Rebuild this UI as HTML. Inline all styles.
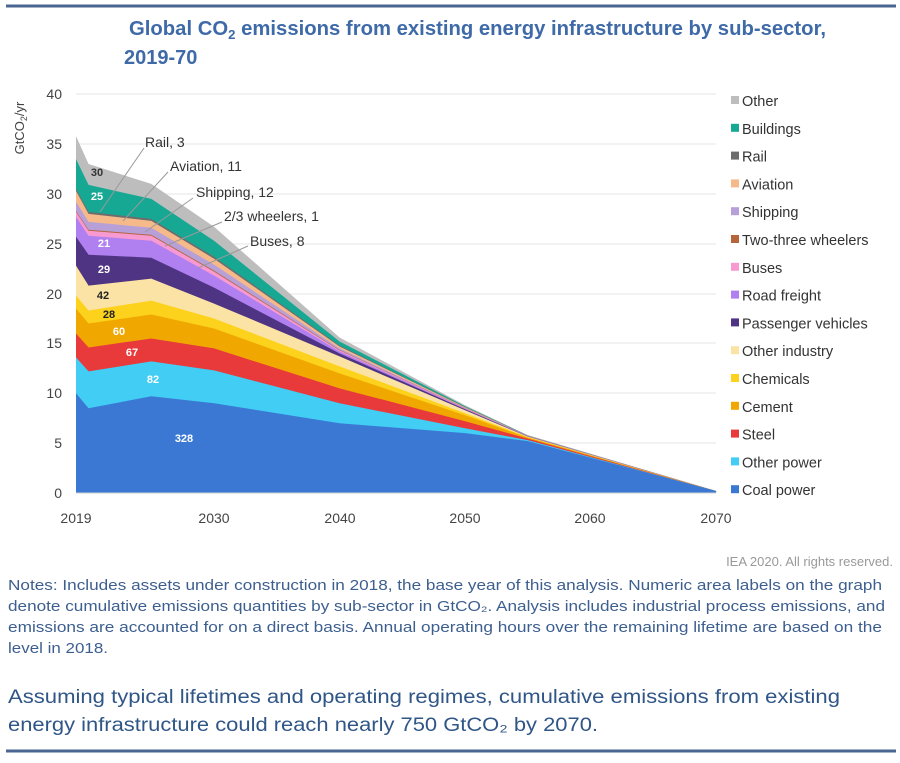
<!DOCTYPE html>
<html><head><meta charset="utf-8"><style>
body{margin:0;background:#fff;width:900px;height:758px;overflow:hidden;font-family:"Liberation Sans",sans-serif;}
</style></head><body>
<svg width="900" height="758" xmlns="http://www.w3.org/2000/svg" font-family="Liberation Sans, sans-serif">
<line x1="6" y1="6" x2="896" y2="6" stroke="#4a6592" stroke-width="3"/>
<line x1="6" y1="751" x2="896" y2="751" stroke="#4a6592" stroke-width="3"/>
<text x="129" y="35" font-size="20" fill="#3f6aa8" font-weight="bold" textLength="697" lengthAdjust="spacingAndGlyphs">Global CO<tspan font-size="13" dy="4">2</tspan><tspan dy="-4"> emissions from existing energy infrastructure by sub-sector,</tspan></text>
<text x="124" y="64" font-size="20" fill="#3f6aa8" font-weight="bold">2019-70</text>
<g stroke="#e6e6e6" stroke-width="1">
<line x1="76" y1="94" x2="716" y2="94"/><line x1="76" y1="144" x2="716" y2="144"/><line x1="76" y1="194" x2="716" y2="194"/><line x1="76" y1="244" x2="716" y2="244"/><line x1="76" y1="294" x2="716" y2="294"/><line x1="76" y1="343" x2="716" y2="343"/><line x1="76" y1="393" x2="716" y2="393"/><line x1="76" y1="443" x2="716" y2="443"/>
</g>
<g id="areas"></g>
<line x1="76" y1="493" x2="716" y2="493" stroke="#cfcfcf"/>
<g font-size="14" fill="#444" text-anchor="end">
<text x="62" y="99">40</text><text x="62" y="149">35</text><text x="62" y="199">30</text><text x="62" y="249">25</text><text x="62" y="299">20</text><text x="62" y="348">15</text><text x="62" y="398">10</text><text x="62" y="448">5</text><text x="62" y="498">0</text>
</g>
<text transform="translate(24,128) rotate(-90)" font-size="13" fill="#444" text-anchor="middle">GtCO<tspan font-size="9" dy="3">2</tspan><tspan dy="-3">/yr</tspan></text>
<g font-size="14" fill="#444" text-anchor="middle">
<text x="76" y="523">2019</text><text x="214" y="523">2030</text><text x="340" y="523">2040</text><text x="465" y="523">2050</text><text x="590" y="523">2060</text><text x="716" y="523">2070</text>
</g>
<g font-size="11" font-weight="bold">
<text x="97" y="176" fill="#333" text-anchor="middle">30</text>
<text x="97" y="200" fill="#fff" text-anchor="middle">25</text>
<text x="104" y="247" fill="#fff" text-anchor="middle">21</text>
<text x="104" y="273" fill="#fff" text-anchor="middle">29</text>
<text x="103" y="299" fill="#222" text-anchor="middle">42</text>
<text x="109" y="318" fill="#222" text-anchor="middle">28</text>
<text x="119" y="335" fill="#fff" text-anchor="middle">60</text>
<text x="132" y="356" fill="#fff" text-anchor="middle">67</text>
<text x="153" y="383" fill="#fff" text-anchor="middle">82</text>
<text x="184" y="442" fill="#fff" text-anchor="middle">328</text>
</g>
<g stroke="#999" stroke-width="1">
<line x1="144" y1="148" x2="100" y2="212"/>
<line x1="168" y1="172" x2="123" y2="221"/>
<line x1="193" y1="198" x2="145" y2="232"/>
<line x1="222" y1="222" x2="165" y2="246"/>
<line x1="248" y1="246" x2="198" y2="268"/>
</g>
<g font-size="14" fill="#333">
<text x="145" y="147">Rail, 3</text>
<text x="170" y="171">Aviation, 11</text>
<text x="196" y="197">Shipping, 12</text>
<text x="224" y="221">2/3 wheelers, 1</text>
<text x="250" y="246">Buses, 8</text>
</g>
<g id="legend" font-size="14.5" fill="#333"></g>
<text x="893" y="566" font-size="13" fill="#999" text-anchor="end">IEA 2020. All rights reserved.</text>
<g font-size="14.5" fill="#3d5f8f">
<text x="8" y="590" textLength="874" lengthAdjust="spacingAndGlyphs">Notes: Includes assets under construction in 2018, the base year of this analysis. Numeric area labels on the graph</text>
<text x="8" y="611" textLength="877" lengthAdjust="spacingAndGlyphs">denote cumulative emissions quantities by sub-sector in GtCO₂. Analysis includes industrial process emissions, and</text>
<text x="8" y="632" textLength="874" lengthAdjust="spacingAndGlyphs">emissions are accounted for on a direct basis. Annual operating hours over the remaining lifetime are based on the</text>
<text x="8" y="653" textLength="100" lengthAdjust="spacingAndGlyphs">level in 2018.</text>
</g>
<g font-size="19" fill="#2f5687">
<text x="8" y="703" textLength="832" lengthAdjust="spacingAndGlyphs">Assuming typical lifetimes and operating regimes, cumulative emissions from existing</text>
<text x="8" y="731" textLength="590" lengthAdjust="spacingAndGlyphs">energy infrastructure could reach nearly 750 GtCO₂ by 2070.</text>
</g>
</svg>
<script>
var years=[2019,2020,2025,2030,2040,2050,2055,2070];
var d=[
[10,13.6,16,18.5,19.8,22.8,25.7,27.7,28.2,28.3,29.2,30.3,30.5,33.5,35.8],
[8.5,12.2,14.6,17,18.3,20.8,23.9,25.8,26.3,26.4,27.2,28.0,28.2,30.9,33],
[9.7,13.2,15.5,17.9,19.3,21.5,23.6,25.3,25.8,25.9,26.6,27.3,27.5,29.5,31],
[9.0,12.3,14.5,16.5,17.5,19.0,20.6,21.8,22.2,22.3,22.9,23.5,23.7,25.3,26.7],
[7.0,9.0,10.5,12,12.7,13.7,14.0,14.2,14.3,14.35,14.5,14.7,14.8,15.2,15.6],
[6,6.5,7.2,7.8,8.0,8.3,8.4,8.45,8.5,8.52,8.55,8.6,8.62,8.7,8.8],
[5.2,5.3,5.45,5.55,5.6,5.65,5.68,5.7,5.71,5.72,5.73,5.75,5.76,5.78,5.8],
[0.2,0.2,0.2,0.2,0.2,0.2,0.2,0.2,0.2,0.2,0.2,0.2,0.2,0.2,0.2]];
var cols=["#3a78d4","#41cdf4","#e8393b","#f0a800","#fcd21c","#fbe3a6","#4e3482","#b07ff0","#f79ad2","#b5653c","#b7a0d8","#f5b98a","#6d6d6d","#17a894","#bdbdbd"];
var names=["Coal power","Other power","Steel","Cement","Chemicals","Other industry","Passenger vehicles","Road freight","Buses","Two-three wheelers","Shipping","Aviation","Rail","Buildings","Other"];
function X(y){return 76+(y-2019)*12.55}function Y(v){return 493-v*9.97}
var g=document.getElementById("areas"),ns="http://www.w3.org/2000/svg";
for(var s=14;s>=0;s--){var p=[];for(var i=0;i<years.length;i++)p.push(X(years[i])+","+Y(d[i][s]));p.push("716,493","76,493");
var e=document.createElementNS(ns,"polygon");e.setAttribute("points",p.join(" "));e.setAttribute("fill",cols[s]);g.appendChild(e);}
var L=document.getElementById("legend");
for(var k=0;k<15;k++){var s=14-k,y=101+k*27.8;var r=document.createElementNS(ns,"rect");r.setAttribute("x",731);r.setAttribute("y",y-5);r.setAttribute("width",8);r.setAttribute("height",8);r.setAttribute("fill",cols[s]);L.appendChild(r);
var t=document.createElementNS(ns,"text");t.setAttribute("x",742);t.setAttribute("y",y+5);t.textContent=names[s];L.appendChild(t);}
</script>
</body></html>
